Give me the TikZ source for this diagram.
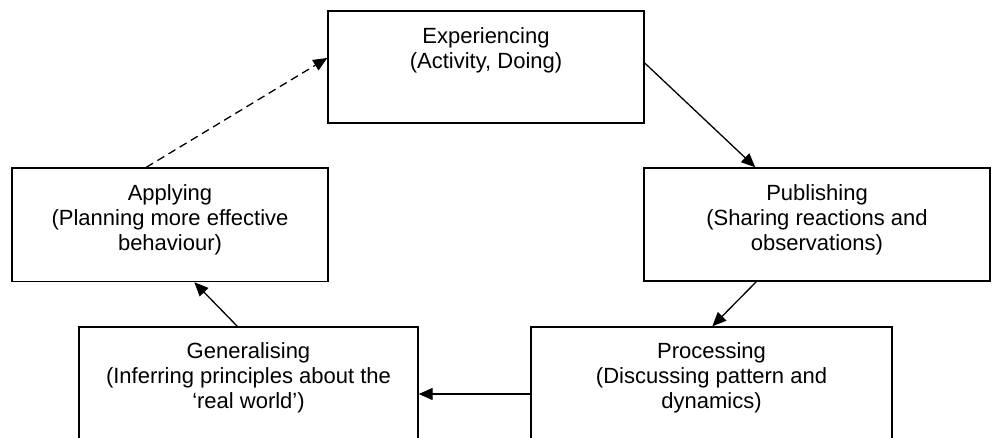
\documentclass[tikz,border=0pt]{standalone}
\usepackage{fontspec}
\setmainfont{Liberation Sans}
\usetikzlibrary{arrows.meta}
\begin{document}
\begin{tikzpicture}[x=1pt,y=-1pt,
  box/.style={draw, line width=1.4pt, rectangle, inner sep=0pt},
  lbl/.style={anchor=north, align=center, inner sep=0pt, font=\fontsize{22}{25.3}\selectfont},
  conn/.style={line width=1.3pt, -{Triangle[length=14pt,width=12pt]}}]
\useasboundingbox (0,0) rectangle (993,438);
\clip (0,0) rectangle (993,438);
\node[box, minimum width=316pt, minimum height=112pt] (exp) at (486,67) {};
\node[box, minimum width=316pt, minimum height=113.5pt] (app) at (170,224.75) {};
\node[box, minimum width=346pt, minimum height=113pt] (pub) at (817,224.5) {};
\node[box, minimum width=339pt, minimum height=113pt] (gen) at (248.5,383.5) {};
\node[box, minimum width=361pt, minimum height=113pt] (proc) at (711.5,383.5) {};
\node[lbl] (expt) at (486,27) {Experiencing\\(Activity, Doing)};
\node[lbl] (appt) at (170,184) {Applying\\(Planning more effective\\behaviour)};
\node[lbl] (pubt) at (817,184) {Publishing\\(Sharing reactions and\\observations)};
\node[lbl] (gent) at (248.5,342) {Generalising\\(Inferring principles about the\\‘real world’)};
\node[lbl] (proct) at (711.5,342) {Processing\\(Discussing pattern and\\dynamics)};
\draw[conn, dash pattern=on 8pt off 5pt] ([xshift=135pt]app.north west) -- ([yshift=9pt]exp.west);
\draw[conn] ([yshift=4pt]exp.east) -- ([xshift=112pt]pub.north west);
\draw[conn] ([xshift=113pt]pub.south west) -- ([xshift=182pt]proc.north west);
\draw[conn] ([yshift=-10.5pt]proc.west) -- ([yshift=-10.5pt]gen.east);
\draw[conn] ([xshift=159pt]gen.north west) -- ([xshift=183pt]app.south west);
\end{tikzpicture}
\end{document}
